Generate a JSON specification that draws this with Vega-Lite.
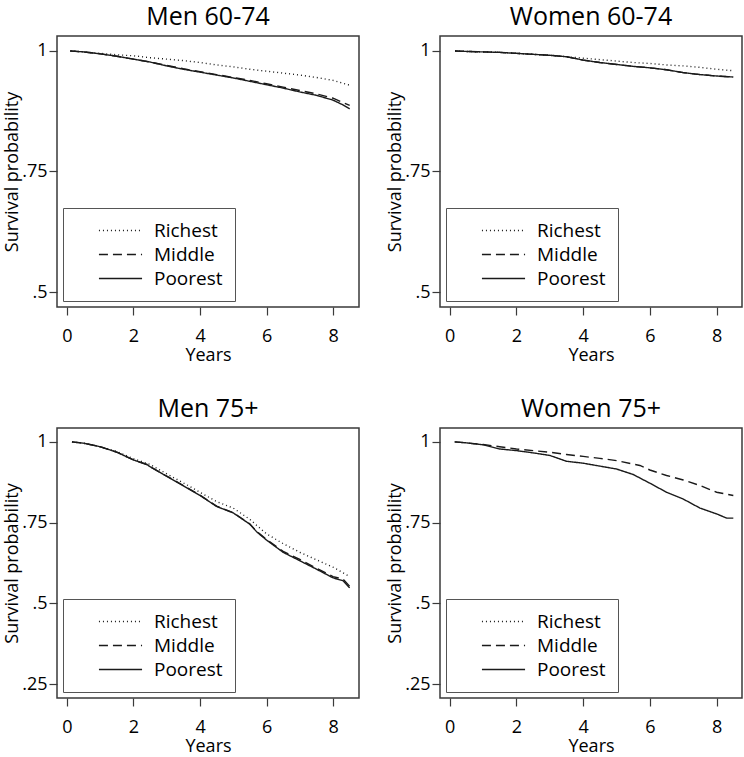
{
  "$schema": "https://vega.github.io/schema/vega-lite/v6.json",
  "background": "white",
  "padding": {"left": 2, "top": 4, "right": 0, "bottom": 0},
  "datasets": {
    "km": [
      {"panel": "Men 60-74", "group": "Richest", "years": 0.1, "surv": 1.0},
      {"panel": "Men 60-74", "group": "Richest", "years": 0.5, "surv": 0.998},
      {"panel": "Men 60-74", "group": "Richest", "years": 1, "surv": 0.995},
      {"panel": "Men 60-74", "group": "Richest", "years": 1.5, "surv": 0.992},
      {"panel": "Men 60-74", "group": "Richest", "years": 2, "surv": 0.99},
      {"panel": "Men 60-74", "group": "Richest", "years": 2.5, "surv": 0.986},
      {"panel": "Men 60-74", "group": "Richest", "years": 3, "surv": 0.983},
      {"panel": "Men 60-74", "group": "Richest", "years": 3.5, "surv": 0.98},
      {"panel": "Men 60-74", "group": "Richest", "years": 4, "surv": 0.976},
      {"panel": "Men 60-74", "group": "Richest", "years": 4.5, "surv": 0.971},
      {"panel": "Men 60-74", "group": "Richest", "years": 5, "surv": 0.967},
      {"panel": "Men 60-74", "group": "Richest", "years": 5.5, "surv": 0.962},
      {"panel": "Men 60-74", "group": "Richest", "years": 6, "surv": 0.958},
      {"panel": "Men 60-74", "group": "Richest", "years": 6.5, "surv": 0.954},
      {"panel": "Men 60-74", "group": "Richest", "years": 7, "surv": 0.95},
      {"panel": "Men 60-74", "group": "Richest", "years": 7.5, "surv": 0.945},
      {"panel": "Men 60-74", "group": "Richest", "years": 8, "surv": 0.939},
      {"panel": "Men 60-74", "group": "Richest", "years": 8.5, "surv": 0.929},
      {"panel": "Men 60-74", "group": "Middle", "years": 0.1, "surv": 1.0},
      {"panel": "Men 60-74", "group": "Middle", "years": 0.5, "surv": 0.998},
      {"panel": "Men 60-74", "group": "Middle", "years": 1, "surv": 0.994},
      {"panel": "Men 60-74", "group": "Middle", "years": 1.5, "surv": 0.989},
      {"panel": "Men 60-74", "group": "Middle", "years": 2, "surv": 0.983},
      {"panel": "Men 60-74", "group": "Middle", "years": 2.5, "surv": 0.977},
      {"panel": "Men 60-74", "group": "Middle", "years": 3, "surv": 0.97},
      {"panel": "Men 60-74", "group": "Middle", "years": 3.5, "surv": 0.963},
      {"panel": "Men 60-74", "group": "Middle", "years": 4, "surv": 0.957},
      {"panel": "Men 60-74", "group": "Middle", "years": 4.5, "surv": 0.951},
      {"panel": "Men 60-74", "group": "Middle", "years": 5, "surv": 0.945},
      {"panel": "Men 60-74", "group": "Middle", "years": 5.5, "surv": 0.939},
      {"panel": "Men 60-74", "group": "Middle", "years": 6, "surv": 0.932},
      {"panel": "Men 60-74", "group": "Middle", "years": 6.5, "surv": 0.925},
      {"panel": "Men 60-74", "group": "Middle", "years": 7, "surv": 0.918},
      {"panel": "Men 60-74", "group": "Middle", "years": 7.5, "surv": 0.911},
      {"panel": "Men 60-74", "group": "Middle", "years": 8, "surv": 0.902},
      {"panel": "Men 60-74", "group": "Middle", "years": 8.3, "surv": 0.893},
      {"panel": "Men 60-74", "group": "Middle", "years": 8.5, "surv": 0.887},
      {"panel": "Men 60-74", "group": "Poorest", "years": 0.1, "surv": 1.0},
      {"panel": "Men 60-74", "group": "Poorest", "years": 0.5, "surv": 0.998},
      {"panel": "Men 60-74", "group": "Poorest", "years": 1, "surv": 0.994},
      {"panel": "Men 60-74", "group": "Poorest", "years": 1.5, "surv": 0.989},
      {"panel": "Men 60-74", "group": "Poorest", "years": 2, "surv": 0.983},
      {"panel": "Men 60-74", "group": "Poorest", "years": 2.5, "surv": 0.977},
      {"panel": "Men 60-74", "group": "Poorest", "years": 3, "surv": 0.969},
      {"panel": "Men 60-74", "group": "Poorest", "years": 3.5, "surv": 0.962},
      {"panel": "Men 60-74", "group": "Poorest", "years": 4, "surv": 0.956},
      {"panel": "Men 60-74", "group": "Poorest", "years": 4.5, "surv": 0.95},
      {"panel": "Men 60-74", "group": "Poorest", "years": 5, "surv": 0.944},
      {"panel": "Men 60-74", "group": "Poorest", "years": 5.5, "surv": 0.937},
      {"panel": "Men 60-74", "group": "Poorest", "years": 6, "surv": 0.93},
      {"panel": "Men 60-74", "group": "Poorest", "years": 6.5, "surv": 0.923},
      {"panel": "Men 60-74", "group": "Poorest", "years": 7, "surv": 0.915},
      {"panel": "Men 60-74", "group": "Poorest", "years": 7.5, "surv": 0.908},
      {"panel": "Men 60-74", "group": "Poorest", "years": 8, "surv": 0.898},
      {"panel": "Men 60-74", "group": "Poorest", "years": 8.3, "surv": 0.888},
      {"panel": "Men 60-74", "group": "Poorest", "years": 8.5, "surv": 0.88},

      {"panel": "Women 60-74", "group": "Richest", "years": 0.16, "surv": 1.0},
      {"panel": "Women 60-74", "group": "Richest", "years": 0.5, "surv": 0.999},
      {"panel": "Women 60-74", "group": "Richest", "years": 1, "surv": 0.998},
      {"panel": "Women 60-74", "group": "Richest", "years": 1.5, "surv": 0.997},
      {"panel": "Women 60-74", "group": "Richest", "years": 2, "surv": 0.995},
      {"panel": "Women 60-74", "group": "Richest", "years": 2.5, "surv": 0.993},
      {"panel": "Women 60-74", "group": "Richest", "years": 3, "surv": 0.991},
      {"panel": "Women 60-74", "group": "Richest", "years": 3.5, "surv": 0.988},
      {"panel": "Women 60-74", "group": "Richest", "years": 4, "surv": 0.985},
      {"panel": "Women 60-74", "group": "Richest", "years": 4.5, "surv": 0.982},
      {"panel": "Women 60-74", "group": "Richest", "years": 5, "surv": 0.979},
      {"panel": "Women 60-74", "group": "Richest", "years": 5.5, "surv": 0.976},
      {"panel": "Women 60-74", "group": "Richest", "years": 6, "surv": 0.974},
      {"panel": "Women 60-74", "group": "Richest", "years": 6.5, "surv": 0.971},
      {"panel": "Women 60-74", "group": "Richest", "years": 7, "surv": 0.969},
      {"panel": "Women 60-74", "group": "Richest", "years": 7.5, "surv": 0.966},
      {"panel": "Women 60-74", "group": "Richest", "years": 8, "surv": 0.962},
      {"panel": "Women 60-74", "group": "Richest", "years": 8.5, "surv": 0.959},
      {"panel": "Women 60-74", "group": "Middle", "years": 0.16, "surv": 1.0},
      {"panel": "Women 60-74", "group": "Middle", "years": 0.5, "surv": 0.999},
      {"panel": "Women 60-74", "group": "Middle", "years": 1, "surv": 0.998},
      {"panel": "Women 60-74", "group": "Middle", "years": 1.5, "surv": 0.997},
      {"panel": "Women 60-74", "group": "Middle", "years": 2, "surv": 0.995},
      {"panel": "Women 60-74", "group": "Middle", "years": 2.5, "surv": 0.993},
      {"panel": "Women 60-74", "group": "Middle", "years": 3, "surv": 0.991},
      {"panel": "Women 60-74", "group": "Middle", "years": 3.5, "surv": 0.988},
      {"panel": "Women 60-74", "group": "Middle", "years": 4, "surv": 0.981},
      {"panel": "Women 60-74", "group": "Middle", "years": 4.5, "surv": 0.976},
      {"panel": "Women 60-74", "group": "Middle", "years": 5, "surv": 0.972},
      {"panel": "Women 60-74", "group": "Middle", "years": 5.5, "surv": 0.968},
      {"panel": "Women 60-74", "group": "Middle", "years": 6, "surv": 0.965},
      {"panel": "Women 60-74", "group": "Middle", "years": 6.5, "surv": 0.961},
      {"panel": "Women 60-74", "group": "Middle", "years": 7, "surv": 0.955},
      {"panel": "Women 60-74", "group": "Middle", "years": 7.5, "surv": 0.951},
      {"panel": "Women 60-74", "group": "Middle", "years": 8, "surv": 0.948},
      {"panel": "Women 60-74", "group": "Middle", "years": 8.5, "surv": 0.946},
      {"panel": "Women 60-74", "group": "Poorest", "years": 0.16, "surv": 1.0},
      {"panel": "Women 60-74", "group": "Poorest", "years": 0.5, "surv": 0.999},
      {"panel": "Women 60-74", "group": "Poorest", "years": 1, "surv": 0.998},
      {"panel": "Women 60-74", "group": "Poorest", "years": 1.5, "surv": 0.997},
      {"panel": "Women 60-74", "group": "Poorest", "years": 2, "surv": 0.995},
      {"panel": "Women 60-74", "group": "Poorest", "years": 2.5, "surv": 0.993},
      {"panel": "Women 60-74", "group": "Poorest", "years": 3, "surv": 0.991},
      {"panel": "Women 60-74", "group": "Poorest", "years": 3.5, "surv": 0.988},
      {"panel": "Women 60-74", "group": "Poorest", "years": 4, "surv": 0.981},
      {"panel": "Women 60-74", "group": "Poorest", "years": 4.5, "surv": 0.976},
      {"panel": "Women 60-74", "group": "Poorest", "years": 5, "surv": 0.972},
      {"panel": "Women 60-74", "group": "Poorest", "years": 5.5, "surv": 0.968},
      {"panel": "Women 60-74", "group": "Poorest", "years": 6, "surv": 0.965},
      {"panel": "Women 60-74", "group": "Poorest", "years": 6.5, "surv": 0.961},
      {"panel": "Women 60-74", "group": "Poorest", "years": 7, "surv": 0.955},
      {"panel": "Women 60-74", "group": "Poorest", "years": 7.5, "surv": 0.951},
      {"panel": "Women 60-74", "group": "Poorest", "years": 8, "surv": 0.948},
      {"panel": "Women 60-74", "group": "Poorest", "years": 8.5, "surv": 0.946},

      {"panel": "Men 75+", "group": "Richest", "years": 0.15, "surv": 1.0},
      {"panel": "Men 75+", "group": "Richest", "years": 0.5, "surv": 0.996},
      {"panel": "Men 75+", "group": "Richest", "years": 1, "surv": 0.985},
      {"panel": "Men 75+", "group": "Richest", "years": 1.5, "surv": 0.97},
      {"panel": "Men 75+", "group": "Richest", "years": 2, "surv": 0.948},
      {"panel": "Men 75+", "group": "Richest", "years": 2.5, "surv": 0.93},
      {"panel": "Men 75+", "group": "Richest", "years": 3, "surv": 0.901},
      {"panel": "Men 75+", "group": "Richest", "years": 3.5, "surv": 0.873},
      {"panel": "Men 75+", "group": "Richest", "years": 4, "surv": 0.844},
      {"panel": "Men 75+", "group": "Richest", "years": 4.5, "surv": 0.815},
      {"panel": "Men 75+", "group": "Richest", "years": 5, "surv": 0.795},
      {"panel": "Men 75+", "group": "Richest", "years": 5.5, "surv": 0.76},
      {"panel": "Men 75+", "group": "Richest", "years": 6, "surv": 0.715},
      {"panel": "Men 75+", "group": "Richest", "years": 6.5, "surv": 0.685},
      {"panel": "Men 75+", "group": "Richest", "years": 7, "surv": 0.658},
      {"panel": "Men 75+", "group": "Richest", "years": 7.5, "surv": 0.635},
      {"panel": "Men 75+", "group": "Richest", "years": 8, "surv": 0.612},
      {"panel": "Men 75+", "group": "Richest", "years": 8.5, "surv": 0.583},
      {"panel": "Men 75+", "group": "Middle", "years": 0.15, "surv": 1.0},
      {"panel": "Men 75+", "group": "Middle", "years": 0.5, "surv": 0.996},
      {"panel": "Men 75+", "group": "Middle", "years": 1, "surv": 0.985},
      {"panel": "Men 75+", "group": "Middle", "years": 1.5, "surv": 0.968},
      {"panel": "Men 75+", "group": "Middle", "years": 2, "surv": 0.944},
      {"panel": "Men 75+", "group": "Middle", "years": 2.4, "surv": 0.93},
      {"panel": "Men 75+", "group": "Middle", "years": 2.5, "surv": 0.923},
      {"panel": "Men 75+", "group": "Middle", "years": 3, "surv": 0.894},
      {"panel": "Men 75+", "group": "Middle", "years": 3.5, "surv": 0.865},
      {"panel": "Men 75+", "group": "Middle", "years": 4, "surv": 0.835},
      {"panel": "Men 75+", "group": "Middle", "years": 4.5, "surv": 0.801},
      {"panel": "Men 75+", "group": "Middle", "years": 5, "surv": 0.781},
      {"panel": "Men 75+", "group": "Middle", "years": 5.5, "surv": 0.746},
      {"panel": "Men 75+", "group": "Middle", "years": 5.7, "surv": 0.723},
      {"panel": "Men 75+", "group": "Middle", "years": 6, "surv": 0.698},
      {"panel": "Men 75+", "group": "Middle", "years": 6.5, "surv": 0.661},
      {"panel": "Men 75+", "group": "Middle", "years": 7, "surv": 0.636},
      {"panel": "Men 75+", "group": "Middle", "years": 7.5, "surv": 0.609},
      {"panel": "Men 75+", "group": "Middle", "years": 8, "surv": 0.583},
      {"panel": "Men 75+", "group": "Middle", "years": 8.3, "surv": 0.575},
      {"panel": "Men 75+", "group": "Middle", "years": 8.5, "surv": 0.553},
      {"panel": "Men 75+", "group": "Poorest", "years": 0.15, "surv": 1.0},
      {"panel": "Men 75+", "group": "Poorest", "years": 0.5, "surv": 0.996},
      {"panel": "Men 75+", "group": "Poorest", "years": 1, "surv": 0.985},
      {"panel": "Men 75+", "group": "Poorest", "years": 1.5, "surv": 0.968},
      {"panel": "Men 75+", "group": "Poorest", "years": 2, "surv": 0.944},
      {"panel": "Men 75+", "group": "Poorest", "years": 2.4, "surv": 0.93},
      {"panel": "Men 75+", "group": "Poorest", "years": 2.5, "surv": 0.923},
      {"panel": "Men 75+", "group": "Poorest", "years": 3, "surv": 0.893},
      {"panel": "Men 75+", "group": "Poorest", "years": 3.5, "surv": 0.864},
      {"panel": "Men 75+", "group": "Poorest", "years": 4, "surv": 0.834},
      {"panel": "Men 75+", "group": "Poorest", "years": 4.5, "surv": 0.8},
      {"panel": "Men 75+", "group": "Poorest", "years": 5, "surv": 0.78},
      {"panel": "Men 75+", "group": "Poorest", "years": 5.5, "surv": 0.745},
      {"panel": "Men 75+", "group": "Poorest", "years": 5.7, "surv": 0.722},
      {"panel": "Men 75+", "group": "Poorest", "years": 6, "surv": 0.696},
      {"panel": "Men 75+", "group": "Poorest", "years": 6.5, "surv": 0.658},
      {"panel": "Men 75+", "group": "Poorest", "years": 7, "surv": 0.632},
      {"panel": "Men 75+", "group": "Poorest", "years": 7.5, "surv": 0.606},
      {"panel": "Men 75+", "group": "Poorest", "years": 8, "surv": 0.579},
      {"panel": "Men 75+", "group": "Poorest", "years": 8.3, "surv": 0.57},
      {"panel": "Men 75+", "group": "Poorest", "years": 8.5, "surv": 0.548},

      {"panel": "Women 75+", "group": "Middle", "years": 0.15, "surv": 1.0},
      {"panel": "Women 75+", "group": "Middle", "years": 0.5, "surv": 0.997},
      {"panel": "Women 75+", "group": "Middle", "years": 1, "surv": 0.992},
      {"panel": "Women 75+", "group": "Middle", "years": 1.5, "surv": 0.985},
      {"panel": "Women 75+", "group": "Middle", "years": 2, "surv": 0.978},
      {"panel": "Women 75+", "group": "Middle", "years": 2.5, "surv": 0.973},
      {"panel": "Women 75+", "group": "Middle", "years": 3, "surv": 0.968},
      {"panel": "Women 75+", "group": "Middle", "years": 3.5, "surv": 0.961},
      {"panel": "Women 75+", "group": "Middle", "years": 4, "surv": 0.955},
      {"panel": "Women 75+", "group": "Middle", "years": 4.5, "surv": 0.949},
      {"panel": "Women 75+", "group": "Middle", "years": 5, "surv": 0.942},
      {"panel": "Women 75+", "group": "Middle", "years": 5.7, "surv": 0.927},
      {"panel": "Women 75+", "group": "Middle", "years": 6, "surv": 0.913},
      {"panel": "Women 75+", "group": "Middle", "years": 6.5, "surv": 0.896},
      {"panel": "Women 75+", "group": "Middle", "years": 7, "surv": 0.882},
      {"panel": "Women 75+", "group": "Middle", "years": 7.5, "surv": 0.865},
      {"panel": "Women 75+", "group": "Middle", "years": 8, "surv": 0.844},
      {"panel": "Women 75+", "group": "Middle", "years": 8.5, "surv": 0.834},
      {"panel": "Women 75+", "group": "Poorest", "years": 0.15, "surv": 1.0},
      {"panel": "Women 75+", "group": "Poorest", "years": 0.5, "surv": 0.997},
      {"panel": "Women 75+", "group": "Poorest", "years": 1, "surv": 0.991},
      {"panel": "Women 75+", "group": "Poorest", "years": 1.5, "surv": 0.978},
      {"panel": "Women 75+", "group": "Poorest", "years": 2, "surv": 0.973},
      {"panel": "Women 75+", "group": "Poorest", "years": 2.5, "surv": 0.966},
      {"panel": "Women 75+", "group": "Poorest", "years": 3, "surv": 0.958},
      {"panel": "Women 75+", "group": "Poorest", "years": 3.5, "surv": 0.94},
      {"panel": "Women 75+", "group": "Poorest", "years": 4, "surv": 0.934},
      {"panel": "Women 75+", "group": "Poorest", "years": 4.5, "surv": 0.925},
      {"panel": "Women 75+", "group": "Poorest", "years": 5, "surv": 0.916},
      {"panel": "Women 75+", "group": "Poorest", "years": 5.5, "surv": 0.899},
      {"panel": "Women 75+", "group": "Poorest", "years": 6, "surv": 0.872},
      {"panel": "Women 75+", "group": "Poorest", "years": 6.5, "surv": 0.844},
      {"panel": "Women 75+", "group": "Poorest", "years": 7, "surv": 0.823},
      {"panel": "Women 75+", "group": "Poorest", "years": 7.5, "surv": 0.795},
      {"panel": "Women 75+", "group": "Poorest", "years": 8, "surv": 0.777},
      {"panel": "Women 75+", "group": "Poorest", "years": 8.3, "surv": 0.764},
      {"panel": "Women 75+", "group": "Poorest", "years": 8.5, "surv": 0.764}
    ]
  },
  "config": {
    "font": "Open Sans",
    "view": {"stroke": "#3a3a3a", "strokeWidth": 1.5},
    "title": {"fontSize": 25, "fontWeight": "normal", "color": "#000", "offset": 6, "baseline": "alphabetic", "anchor": "middle"},
    "axis": {"grid": false, "domain": false, "tickColor": "#3a3a3a", "tickSize": 8, "tickWidth": 1.2, "labelFontSize": 18, "labelColor": "#000", "titleFontSize": 18, "titleFontWeight": "normal", "titleColor": "#000"},
    "axisY": {"labelPadding": 2, "titlePadding": 0},
    "axisX": {"labelPadding": 12, "titlePadding": 1},
    "legend": {"strokeColor": "#555", "fillColor": "white", "padding": 12, "labelFontSize": 19, "labelColor": "#000", "symbolType": "M-2.2,0H2.2", "symbolSize": 384, "symbolStrokeWidth": 1.3, "symbolStrokeColor": "#1a1a1a", "rowPadding": 3, "symbolOffset": 35, "labelOffset": 23}
  },
  "spacing": 31,
  "resolve": {"scale": {"strokeDash": "independent"}, "legend": {"strokeDash": "independent"}},
  "vconcat": [
    {
      "spacing": 25,
      "resolve": {"scale": {"strokeDash": "independent"}, "legend": {"strokeDash": "independent"}},
      "hconcat": [
        {
          "title": "Men 60-74",
          "width": 302, "height": 271,
          "data": {"name": "km"},
          "transform": [{"filter": "datum.panel == 'Men 60-74'"}],
          "mark": {"type": "line", "color": "#1a1a1a", "strokeWidth": 1.4},
          "encoding": {
            "x": {"field": "years", "type": "quantitative", "scale": {"domain": [-0.3, 8.78], "nice": false, "zero": false}, "axis": {"values": [0, 2, 4, 6, 8], "format": "d", "title": "Years"}},
            "y": {"field": "surv", "type": "quantitative", "scale": {"domain": [0.469, 1.031], "nice": false, "zero": false}, "axis": {"values": [0.5, 0.75, 1], "labelExpr": "replace(format(datum.value, '.2~f'), '0.', '.')", "title": "Survival probability"}},
            "strokeDash": {"field": "group", "type": "nominal", "scale": {"domain": ["Richest", "Middle", "Poorest"], "range": [[1, 3], [9, 5], [1, 0]]}, "legend": {"title": null, "orient": "none", "legendX": 6, "legendY": 172}}
          }
        },
        {
          "title": "Women 60-74",
          "width": 302, "height": 271,
          "data": {"name": "km"},
          "transform": [{"filter": "datum.panel == 'Women 60-74'"}],
          "mark": {"type": "line", "color": "#1a1a1a", "strokeWidth": 1.4},
          "encoding": {
            "x": {"field": "years", "type": "quantitative", "scale": {"domain": [-0.29, 8.76], "nice": false, "zero": false}, "axis": {"values": [0, 2, 4, 6, 8], "format": "d", "title": "Years"}},
            "y": {"field": "surv", "type": "quantitative", "scale": {"domain": [0.469, 1.031], "nice": false, "zero": false}, "axis": {"values": [0.5, 0.75, 1], "labelExpr": "replace(format(datum.value, '.2~f'), '0.', '.')", "title": "Survival probability"}},
            "strokeDash": {"field": "group", "type": "nominal", "scale": {"domain": ["Richest", "Middle", "Poorest"], "range": [[1, 3], [9, 5], [1, 0]]}, "legend": {"title": null, "orient": "none", "legendX": 6, "legendY": 172}}
          }
        }
      ]
    },
    {
      "spacing": 25,
      "resolve": {"scale": {"strokeDash": "independent"}, "legend": {"strokeDash": "independent"}},
      "hconcat": [
        {
          "title": "Men 75+",
          "width": 302, "height": 270,
          "data": {"name": "km"},
          "transform": [{"filter": "datum.panel == 'Men 75+'"}],
          "mark": {"type": "line", "color": "#1a1a1a", "strokeWidth": 1.4},
          "encoding": {
            "x": {"field": "years", "type": "quantitative", "scale": {"domain": [-0.3, 8.78], "nice": false, "zero": false}, "axis": {"values": [0, 2, 4, 6, 8], "format": "d", "title": "Years"}},
            "y": {"field": "surv", "type": "quantitative", "scale": {"domain": [0.207, 1.043], "nice": false, "zero": false}, "axis": {"values": [0.25, 0.5, 0.75, 1], "labelExpr": "replace(format(datum.value, '.2~f'), '0.', '.')", "title": "Survival probability"}},
            "strokeDash": {"field": "group", "type": "nominal", "scale": {"domain": ["Richest", "Middle", "Poorest"], "range": [[1, 3], [9, 5], [1, 0]]}, "legend": {"title": null, "orient": "none", "legendX": 6, "legendY": 171}}
          }
        },
        {
          "title": "Women 75+",
          "width": 302, "height": 270,
          "data": {"name": "km"},
          "transform": [{"filter": "datum.panel == 'Women 75+'"}],
          "mark": {"type": "line", "color": "#1a1a1a", "strokeWidth": 1.4},
          "encoding": {
            "x": {"field": "years", "type": "quantitative", "scale": {"domain": [-0.29, 8.76], "nice": false, "zero": false}, "axis": {"values": [0, 2, 4, 6, 8], "format": "d", "title": "Years"}},
            "y": {"field": "surv", "type": "quantitative", "scale": {"domain": [0.207, 1.043], "nice": false, "zero": false}, "axis": {"values": [0.25, 0.5, 0.75, 1], "labelExpr": "replace(format(datum.value, '.2~f'), '0.', '.')", "title": "Survival probability"}},
            "strokeDash": {"field": "group", "type": "nominal", "scale": {"domain": ["Richest", "Middle", "Poorest"], "range": [[1, 3], [9, 5], [1, 0]]}, "legend": {"title": null, "orient": "none", "legendX": 6, "legendY": 171}}
          }
        }
      ]
    }
  ]
}
